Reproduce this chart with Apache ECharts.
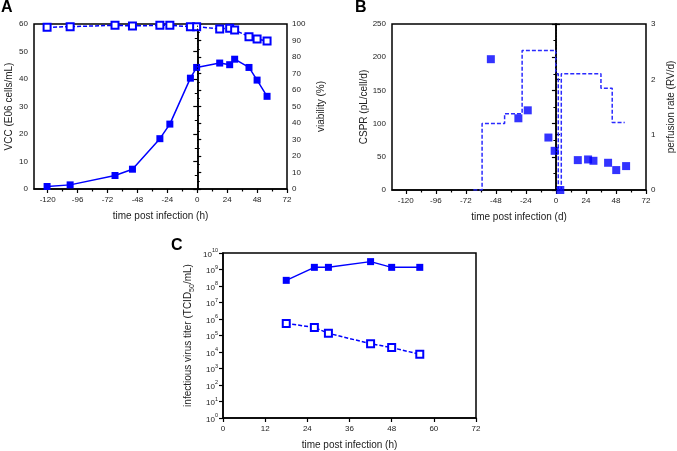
<!DOCTYPE html>
<html>
<head>
<meta charset="utf-8">
<script src="https://cdn.jsdelivr.net/npm/echarts@6/dist/echarts.min.js"></script>
<style>
html,body{margin:0;padding:0;background:#fff;}
#c{width:677px;height:451px;}
</style>
</head>
<body>
<div id="c"></div>
<script>
// ---- Panel A data ----
const timeA = [-120.5, -102, -66, -52, -30, -22, -5.5, -0.5, 18, 26, 30, 41.5, 48, 56];
const vcc = [0.9, 1.5, 4.9, 7.2, 18.3, 23.6, 40.3, 44.2, 45.8, 45.2, 47.2, 44.2, 39.6, 33.7];
const viability = [98.0, 98.4, 99.2, 98.8, 99.2, 99.2, 98.4, 98.4, 97.0, 97.4, 96.4, 92.3, 90.9, 89.7];
// ---- Panel B data ----
const timeB = [-52, -30, -22.5, -6, -1, 3.5, 17.5, 25.7, 30, 41.7, 48.2, 56.1];
const cspr = [197, 108, 120, 79, 59, 0, 45, 46, 44, 41, 30, 36];
const perfTime = [-66, -59, -41, -27, 0, 1.9, 4.3, 36, 45, 55];
const perfRate = [0, 1.2, 1.38, 2.52, 2.1, 0, 2.1, 1.84, 1.22, 1.22];
// ---- Panel C data ----
const timeC = [18, 26, 30, 42, 48, 56];
const titerSolid = [2.2e8, 1.35e9, 1.35e9, 3.0e9, 1.35e9, 1.35e9];
const titerOpen = [5.4e5, 3.1e5, 1.35e5, 3.2e4, 1.85e4, 7.3e3];
// ---- tick labels ----
const xMajorAB = [-120, -96, -72, -48, -24, 0, 24, 48, 72];
const xMinorAB = [-108, -84, -60, -36, -12, 12, 36, 60];
const xTicksC = [0, 12, 24, 36, 48, 60, 72];

const BLUE = '#0000ff';
const FONT = 'Liberation Sans, Arial, sans-serif';
const tickLbl = {color: '#222', fontSize: 8, fontFamily: FONT};
const nameTS = {color: '#222', fontSize: 10, fontFamily: FONT};
const axLine = {show: true, lineStyle: {color: '#000', width: 1.5}};
const axTick = {show: true, inside: false, length: 4, lineStyle: {color: '#000', width: 1.2}};
const minorT = {show: true, splitNumber: 2, length: 2.5, lineStyle: {color: '#000', width: 1}};
const zip = (a, b) => a.map((v, i) => [v, b[i]]);

const chart = echarts.init(document.getElementById('c'), null, {renderer: 'canvas'});

const gridBase = {show: true, borderColor: '#000', borderWidth: 1.5, backgroundColor: 'transparent', containLabel: false};

const option = {
  animation: false,
  backgroundColor: '#fff',
  textStyle: {fontFamily: FONT},
  graphic: [
    {type: 'text', left: 1, top: 0, style: {text: 'A', font: 'bold 16px ' + FONT, fill: '#000'}},
    {type: 'text', left: 355, top: 0, style: {text: 'B', font: 'bold 16px ' + FONT, fill: '#000'}},
    {type: 'text', left: 171, top: 238, style: {text: 'C', font: 'bold 16px ' + FONT, fill: '#000'}}
  ],
  grid: [
    Object.assign({left: 34, top: 24, width: 253, height: 165}, gridBase),
    Object.assign({left: 392, top: 24, width: 254, height: 166}, gridBase),
    Object.assign({left: 223, top: 253, width: 253, height: 166}, gridBase)
  ],
  xAxis: [
    {gridIndex: 0, type: 'value', min: -131, max: 72, position: 'bottom',
     axisLine: axLine, axisTick: Object.assign({}, axTick, {customValues: xMajorAB}),
     axisLabel: Object.assign({}, tickLbl, {customValues: xMajorAB, margin: 7}),
     splitLine: {show: false},
     name: 'time post infection (h)', nameLocation: 'middle', nameGap: 22, nameTextStyle: nameTS},
    {gridIndex: 0, type: 'value', min: -131, max: 72, position: 'bottom',
     axisLine: {show: false}, axisTick: Object.assign({}, axTick, {length: 2.5, customValues: xMinorAB}),
     axisLabel: {show: false, customValues: xMinorAB}, splitLine: {show: false}},
    {gridIndex: 1, type: 'value', min: -131, max: 72, position: 'bottom',
     axisLine: axLine, axisTick: Object.assign({}, axTick, {customValues: xMajorAB}),
     axisLabel: Object.assign({}, tickLbl, {customValues: xMajorAB, margin: 7}),
     splitLine: {show: false},
     name: 'time post infection (d)', nameLocation: 'middle', nameGap: 22, nameTextStyle: nameTS},
    {gridIndex: 1, type: 'value', min: -131, max: 72, position: 'bottom',
     axisLine: {show: false}, axisTick: Object.assign({}, axTick, {length: 2.5, customValues: xMinorAB}),
     axisLabel: {show: false, customValues: xMinorAB}, splitLine: {show: false}},
    {gridIndex: 2, type: 'value', min: 0, max: 72, position: 'bottom',
     axisLine: axLine, axisTick: Object.assign({}, axTick, {customValues: xTicksC}),
     axisLabel: Object.assign({}, tickLbl, {customValues: xTicksC, margin: 7}),
     splitLine: {show: false},
     name: 'time post infection (h)', nameLocation: 'middle', nameGap: 22, nameTextStyle: nameTS}
  ],
  yAxis: [
    {gridIndex: 0, type: 'value', min: 0, max: 60, interval: 10, position: 'left',
     axisLine: axLine, axisTick: axTick, minorTick: minorT, splitLine: {show: false}, minorSplitLine: {show: false},
     axisLabel: Object.assign({}, tickLbl, {margin: 6}),
     name: 'VCC (E06 cells/mL)', nameLocation: 'middle', nameGap: 20, nameTextStyle: nameTS},
    {gridIndex: 0, type: 'value', min: 0, max: 100, interval: 10, position: 'right',
     axisLine: axLine, axisTick: axTick, minorTick: minorT, splitLine: {show: false}, minorSplitLine: {show: false},
     axisLabel: Object.assign({}, tickLbl, {margin: 5}),
     name: 'viability (%)', nameLocation: 'middle', nameGap: 29, nameRotate: 90, nameTextStyle: nameTS},
    {gridIndex: 1, type: 'value', min: 0, max: 250, interval: 50, position: 'left',
     axisLine: axLine, axisTick: axTick, minorTick: minorT, splitLine: {show: false}, minorSplitLine: {show: false},
     axisLabel: Object.assign({}, tickLbl, {margin: 6}),
     name: 'CSPR (pL/cell/d)', nameLocation: 'middle', nameGap: 22, nameTextStyle: nameTS},
    {gridIndex: 1, type: 'value', min: 0, max: 3, interval: 1, position: 'right',
     axisLine: axLine, axisTick: axTick, splitLine: {show: false},
     axisLabel: Object.assign({}, tickLbl, {margin: 5}),
     name: 'perfusion rate (RV/d)', nameLocation: 'middle', nameGap: 20, nameRotate: 90, nameTextStyle: nameTS},
    {gridIndex: 2, type: 'log', logBase: 10, min: 1, max: 1e10, interval: 1, position: 'left',
     axisLine: axLine, axisTick: axTick, splitLine: {show: false},
     axisLabel: Object.assign({}, tickLbl, {margin: 5,
       formatter: function (v) { const e = Math.round(Math.log10(v)); return '{b|10}{s|' + e + '}'; },
       rich: {b: {fontSize: 8, color: '#222', fontFamily: FONT, verticalAlign: 'bottom', lineHeight: 11},
              s: {fontSize: 5.5, color: '#222', fontFamily: FONT, verticalAlign: 'top', lineHeight: 11}}}),
     name: '{t|infectious virus titer (TCID}{s|50}{t|/mL)}', nameLocation: 'middle', nameGap: 27,
     nameTextStyle: {rich: {t: {fontSize: 10, color: '#222', fontFamily: FONT, verticalAlign: 'top', lineHeight: 13},
                            s: {fontSize: 7, color: '#222', fontFamily: FONT, verticalAlign: 'bottom', lineHeight: 13}}}}
  ],
  series: [
    {type: 'line', xAxisIndex: 0, yAxisIndex: 0, data: zip(timeA, vcc),
     symbol: 'rect', symbolSize: 7, itemStyle: {color: BLUE}, lineStyle: {color: BLUE, width: 1.5}, z: 3,
     markLine: {silent: true, symbol: 'none', label: {show: false},
                lineStyle: {color: '#000', type: [1.5, 1.5], width: 0.8}, data: [{xAxis: 0}]}},
    {type: 'line', xAxisIndex: 0, yAxisIndex: 1, data: zip(timeA, viability),
     symbol: 'emptyRect', symbolSize: 7, itemStyle: {color: BLUE, borderColor: BLUE, borderWidth: 1.5},
     lineStyle: {color: BLUE, width: 1.5, type: [4, 2]}, z: 3},
    {type: 'line', xAxisIndex: 2, yAxisIndex: 3, data: zip(perfTime, perfRate), step: 'end',
     symbol: 'none', lineStyle: {color: '#2a2aff', width: 1.5, type: [4, 2]}, z: 2,
     markLine: {silent: true, symbol: 'none', label: {show: false},
                lineStyle: {color: '#000', type: [1.5, 1.5], width: 0.8}, data: [{xAxis: 0}]}},
    {type: 'scatter', xAxisIndex: 2, yAxisIndex: 2, data: zip(timeB, cspr),
     symbol: 'rect', symbolSize: 8, itemStyle: {color: BLUE}, z: 4},
    {type: 'line', xAxisIndex: 4, yAxisIndex: 4, data: zip(timeC, titerSolid),
     symbol: 'rect', symbolSize: 7, itemStyle: {color: BLUE}, lineStyle: {color: BLUE, width: 1.5}},
    {type: 'line', xAxisIndex: 4, yAxisIndex: 4, data: zip(timeC, titerOpen),
     symbol: 'emptyRect', symbolSize: 7, itemStyle: {color: BLUE, borderColor: BLUE, borderWidth: 1.5},
     lineStyle: {color: BLUE, width: 1.5, type: [4, 2]}}
  ]
};
chart.setOption(option);
</script>
</body>
</html>
